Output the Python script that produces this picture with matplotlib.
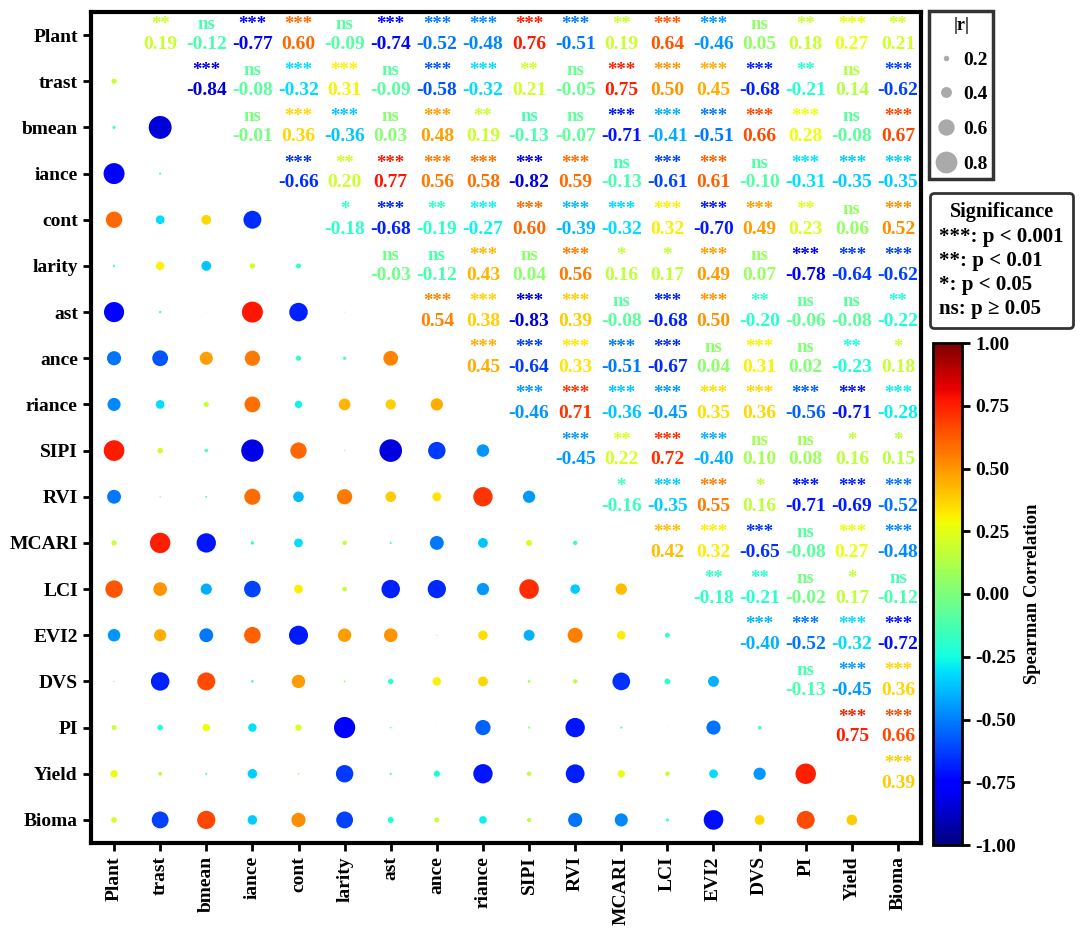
import numpy as np
import matplotlib
matplotlib.use('Agg')
import matplotlib.pyplot as plt
from matplotlib.lines import Line2D
import matplotlib.colors as mcolors
import matplotlib.cm as cm

plt.rcParams['font.family'] = ['Liberation Serif', 'DejaVu Serif']
plt.rcParams['font.weight'] = 'bold'
plt.rcParams['axes.labelweight'] = 'bold'

labels = ["Plant", "trast", "bmean", "iance", "cont", "larity", "ast", "ance",
          "riance", "SIPI", "RVI", "MCARI", "LCI", "EVI2", "DVS", "PI", "Yield", "Bioma"]

# upper-triangle correlations, row i gives columns i+1 .. n-1
r_upper = [
    [0.19, -0.12, -0.77, 0.60, -0.09, -0.74, -0.52, -0.48, 0.76, -0.51, 0.19, 0.64, -0.46, 0.05, 0.18, 0.27, 0.21],
    [-0.84, -0.08, -0.32, 0.31, -0.09, -0.58, -0.32, 0.21, -0.05, 0.75, 0.50, 0.45, -0.68, -0.21, 0.14, -0.62],
    [-0.01, 0.36, -0.36, 0.03, 0.48, 0.19, -0.13, -0.07, -0.71, -0.41, -0.51, 0.66, 0.28, -0.08, 0.67],
    [-0.66, 0.20, 0.77, 0.56, 0.58, -0.82, 0.59, -0.13, -0.61, 0.61, -0.10, -0.31, -0.35, -0.35],
    [-0.18, -0.68, -0.19, -0.27, 0.60, -0.39, -0.32, 0.32, -0.70, 0.49, 0.23, 0.06, 0.52],
    [-0.03, -0.12, 0.43, 0.04, 0.56, 0.16, 0.17, 0.49, 0.07, -0.78, -0.64, -0.62],
    [0.54, 0.38, -0.83, 0.39, -0.08, -0.68, 0.50, -0.20, -0.06, -0.08, -0.22],
    [0.45, -0.64, 0.33, -0.51, -0.67, 0.04, 0.31, 0.02, -0.23, 0.18],
    [-0.46, 0.71, -0.36, -0.45, 0.35, 0.36, -0.56, -0.71, -0.28],
    [-0.45, 0.22, 0.72, -0.40, 0.10, 0.08, 0.16, 0.15],
    [-0.16, -0.35, 0.55, 0.16, -0.71, -0.69, -0.52],
    [0.42, 0.32, -0.65, -0.08, 0.27, -0.48],
    [-0.18, -0.21, -0.02, 0.17, -0.12],
    [-0.40, -0.52, -0.32, -0.72],
    [-0.13, -0.45, 0.36],
    [0.75, 0.66],
    [0.39],
]

sig_upper = [
    "** ns *** *** ns *** *** *** *** *** ** *** *** ns ** *** **".split(),
    "*** ns *** *** ns *** *** ** ns *** *** *** *** ** ns ***".split(),
    "ns *** *** ns *** ** ns ns *** *** *** *** *** ns ***".split(),
    "*** ** *** *** *** *** *** ns *** *** ns *** *** ***".split(),
    "* *** ** *** *** *** *** *** *** *** ** ns ***".split(),
    "ns ns *** ns *** * * *** ns *** *** ***".split(),
    "*** *** *** *** ns *** *** ** ns ns **".split(),
    "*** *** *** *** *** ns *** ns ** *".split(),
    "*** *** *** *** *** *** *** *** ***".split(),
    "*** ** *** *** ns ns * *".split(),
    "* *** *** * *** *** ***".split(),
    "*** *** *** ns *** ***".split(),
    "** ** ns * ns".split(),
    "*** *** *** ***".split(),
    "ns *** ***".split(),
    "*** ***".split(),
    "***".split(),
]

size_levels = [0.2, 0.4, 0.6, 0.8]
sig_legend = ["***: p < 0.001", "**: p < 0.01", "*: p < 0.05", "ns: p \u2265 0.05"]

n = len(labels)
R = np.zeros((n, n))
S = [["" for _ in range(n)] for _ in range(n)]
for i, row in enumerate(r_upper):
    for k, v in enumerate(row):
        j = i + 1 + k
        R[i, j] = v
        R[j, i] = v
        S[i][j] = sig_upper[i][k]

cmap = plt.get_cmap('jet')
norm = mcolors.Normalize(vmin=-1, vmax=1)

W, H = 1080, 934
fig = plt.figure(figsize=(W / 100, H / 100), dpi=100)
ax = fig.add_axes([91 / W, 1 - 843 / H, (921 - 91) / W, (843 - 12) / H])

diam_pt = 19.6  # marker diameter (points) per unit |r|

xs, ys, vs = [], [], []
for i in range(n):
    for j in range(n):
        if j < i:
            xs.append(j)
            ys.append(i)
            vs.append(R[i, j])
        elif j > i:
            c = cmap(norm(R[i, j]))
            ax.text(j, i - 0.13, S[i][j], ha='center', va='baseline', color=c,
                    fontsize=13.5, fontweight='bold')
            ax.text(j, i + 0.30, f"{R[i, j]:.2f}", ha='center', va='baseline', color=c,
                    fontsize=14, fontweight='bold')
vs = np.array(vs)
ax.scatter(xs, ys, s=(diam_pt * np.abs(vs)) ** 2, c=vs, cmap=cmap, norm=norm, linewidths=0)

ax.set_xlim(-0.5, n - 0.5)
ax.set_ylim(n - 0.5, -0.5)
ax.set_xticks(range(n))
ax.set_yticks(range(n))
ax.set_xticklabels(labels, rotation=90, fontsize=14, fontweight='bold')
ax.set_yticklabels(labels, fontsize=14, fontweight='bold')
ax.tick_params(axis='both', length=6, width=2, direction='out')
for sp in ax.spines.values():
    sp.set_linewidth(3)

# colorbar
cax = fig.add_axes([933 / W, 1 - 845 / H, 29 / W, 502 / H])
sm = cm.ScalarMappable(norm=norm, cmap=cmap)
cb = fig.colorbar(sm, cax=cax, ticks=np.linspace(-1, 1, 9), format='%.2f')
cb.ax.tick_params(labelsize=14, length=6, width=2)
for t in cb.ax.get_yticklabels():
    t.set_fontweight('bold')
cb.outline.set_linewidth(2)
cb.set_label('Spearman Correlation', fontsize=13.5, fontweight='bold', labelpad=6)

# size legend
handles = [Line2D([], [], marker='o', linestyle='', markersize=diam_pt * v,
                  markerfacecolor='#aaaaaa', markeredgewidth=0) for v in size_levels]
leg1 = fig.legend(handles, [f"{v:.1f}" for v in size_levels], title='|r|',
                  loc='upper left', bbox_to_anchor=(929 / W, 1 - 11 / H),
                  frameon=True, fancybox=False, edgecolor='black',
                  prop={'weight': 'bold', 'size': 14},
                  title_fontproperties={'weight': 'bold', 'size': 13},
                  labelspacing=0.88, handlelength=1.1, handletextpad=0.35,
                  borderpad=0.3, borderaxespad=0)
leg1.get_frame().set_linewidth(2.5)

# significance legend
h2 = [Line2D([], [], linestyle='', marker='') for _ in sig_legend]
leg2 = fig.legend(h2, sig_legend, title='Significance',
                  loc='upper left', bbox_to_anchor=(930 / W, 1 - 193 / H),
                  frameon=True, fancybox=True, edgecolor='black',
                  prop={'weight': 'bold', 'size': 15},
                  title_fontproperties={'weight': 'bold', 'size': 14.5},
                  handlelength=0, handletextpad=0, labelspacing=0.2,
                  borderpad=0.45, borderaxespad=0)
leg2.get_frame().set_linewidth(2)

fig.savefig('out.png', dpi=100)
